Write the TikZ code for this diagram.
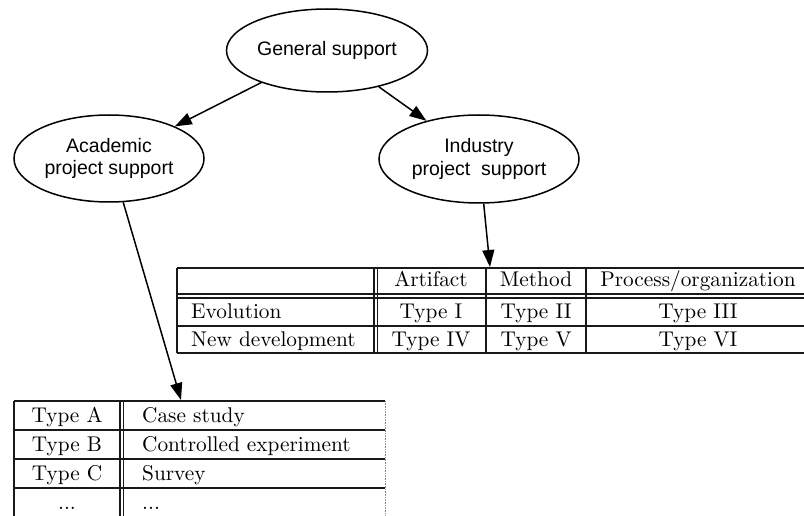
\documentclass[tikz,border=0pt]{standalone}
\usepackage{fontspec}
\newfontfamily\ellfont{Liberation Sans}
\font\tabfnt="[lmroman10-regular]:mapping=tex-text" at 21.3pt
\usetikzlibrary{shapes.geometric,arrows.meta}
\tikzset{
  ell/.style={draw, ellipse, line width=1.5pt, inner sep=0pt, align=center,
    font=\ellfont\fontsize{19.5}{22.5}\selectfont},
  conn/.style={line width=1.5pt, -{Triangle[length=17pt,width=12pt]}},
  tline/.style={line width=1.2pt, black!90},
  tfaint/.style={line width=0.6pt, black!45, densely dotted},
  ttext/.style={inner sep=0pt, font=\tabfnt, anchor=base},
  ltext/.style={inner sep=0pt, font=\tabfnt, anchor=base west},
}
\begin{document}
\begin{tikzpicture}[x=1pt,y=-1pt]
\useasboundingbox (0,0) rectangle (804,516);
% ellipses
\node[ell, minimum width=201pt, minimum height=83pt] (gen) at (327,50.5) {General support};
\node[ell, minimum width=190pt, minimum height=87pt] (acad) at (109,158.5) {Academic\\project support};
\node[ell, minimum width=200pt, minimum height=88pt] (ind) at (479,159) {Industry\\project~ support};
% arrow end points
\coordinate (itab) at (490,267);
\coordinate (atab) at (181,400);
% connectors
\draw[conn] (gen.206.6) -- (acad.26.2);
\draw[conn] (gen.325.2) -- (ind.144.2);
\draw[conn] (ind.276.5) -- (itab);
\draw[conn] (acad.288) -- (atab);
% ---- industry table ----
\draw[tline] (177,268) -- (812,268);
\draw[tline] (177,294) -- (812,294);
\draw[tline] (177,298) -- (812,298);
\draw[tline] (177,326) -- (812,326);
\draw[tline] (177,353) -- (812,353);
\draw[tline] (177,268) -- (177,353);
\draw[tline] (374,268) -- (374,353);
\draw[tline] (377.5,268) -- (377.5,353);
\draw[tline] (486,268) -- (486,353);
\draw[tline] (586,268) -- (586,353);
\node[ttext] (h1) at (431,287) {Artifact};
\node[ttext] (h2) at (536,287) {Method};
\node[ttext] (h3) at (698,287) {Process/organization};
\node[ltext] (r1) at (191,318) {Evolution};
\node[ttext] (t1) at (431,318) {Type I};
\node[ttext] (t2) at (536,318) {Type II};
\node[ttext] (t3) at (698,318) {Type III};
\node[ltext] (r2) at (191,346) {New development};
\node[ttext] (t4) at (431,346) {Type IV};
\node[ttext] (t5) at (536,346) {Type V};
\node[ttext] (t6) at (698,346) {Type VI};
% ---- academic table ----
\draw[tline] (14,401) -- (385,401);
\draw[tline] (14,430) -- (385,430);
\draw[tline] (14,459) -- (385,459);
\draw[tline] (14,488) -- (385,488);
\draw[tline] (14,401) -- (14,520);
\draw[tline] (120,401) -- (120,520);
\draw[tline] (123.5,401) -- (123.5,520);
\draw[tfaint] (385,401) -- (385,520);
\node[ttext] (a1) at (67,422) {Type A};
\node[ltext] (b1) at (142,422) {Case study};
\node[ttext] (a2) at (67,451) {Type B};
\node[ltext] (b2) at (142,451) {Controlled experiment};
\node[ttext] (a3) at (67,480) {Type C};
\node[ltext] (b3) at (142,480) {Survey};
\node[ttext] (a4) at (67,509) {...};
\node[ltext] (b4) at (142,509) {...};
\end{tikzpicture}
\end{document}
